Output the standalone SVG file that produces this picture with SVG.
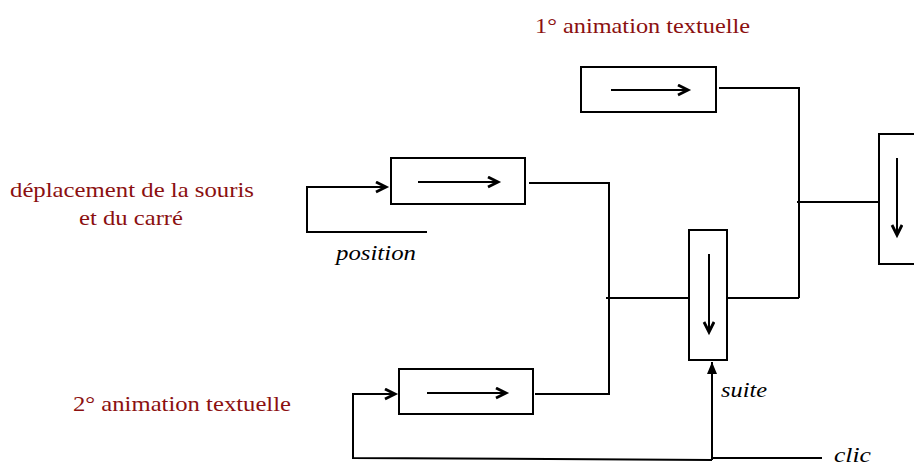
<svg xmlns="http://www.w3.org/2000/svg" width="914" height="466" viewBox="0 0 914 466">
<style>
.box{fill:#fff;stroke:#000;stroke-width:2}
.ln{fill:none;stroke:#000;stroke-width:2}
.arr{fill:none;stroke:#000;stroke-width:2;marker-end:url(#chev)}
.lbl{fill:#8b1010}
.it{font-style:italic;fill:#000}
</style>
<defs>
<marker id="chev" markerUnits="userSpaceOnUse" markerWidth="16" markerHeight="14" refX="12" refY="6" orient="auto">
<path d="M2,1 L12,6 L2,11" fill="none" stroke="#000" stroke-width="2.8"/>
</marker>
<marker id="tri" markerUnits="userSpaceOnUse" markerWidth="14" markerHeight="12" refX="12" refY="5" orient="auto">
<path d="M0,0 L12,5 L0,10 Z" fill="#000"/>
</marker>
</defs>

<g id="connectors">
<path class="ln" d="M529,183 H609 V394 H535"/>
<path class="ln" d="M719,88 H799 V298"/>
<path class="ln" d="M606,298 H709 M727,298 H799"/>
<path class="ln" d="M797,202 H897"/>
<path class="arr" d="M427,232 H307 V187 H386"/>
<path class="arr" d="M712,460 L353,458 V394 H395"/>
<path class="ln" d="M822,458 H712"/>
<path class="ln" d="M712,460 V362" marker-end="url(#tri)"/>
</g>

<g id="node-deplacement">
<rect class="box" x="391" y="158" width="134" height="46"/>
<path class="arr" d="M418,182 H498"/>
</g>
<g id="node-anim1">
<rect class="box" x="581" y="67" width="135" height="45"/>
<path class="arr" d="M611,90 H688"/>
</g>
<g id="node-anim2">
<rect class="box" x="399" y="369" width="134" height="45"/>
<path class="arr" d="M427,393 H506"/>
</g>
<g id="node-suite">
<rect class="box" x="689" y="230" width="38" height="130"/>
<path class="arr" d="M709,254 V332"/>
</g>
<g id="node-right">
<rect class="box" x="879" y="134" width="40" height="130"/>
<path class="arr" d="M897,158 V235"/>
</g>

<g id="labels" font-family="Liberation Serif, DejaVu Serif, serif" font-size="21">
<text class="lbl" x="535" y="33" textLength="215" lengthAdjust="spacingAndGlyphs">1° animation textuelle</text>
<text class="lbl" x="10" y="197" textLength="244" lengthAdjust="spacingAndGlyphs">déplacement de la souris</text>
<text class="lbl" x="79" y="225" textLength="104" lengthAdjust="spacingAndGlyphs">et du carré</text>
<text class="lbl" x="73" y="411" textLength="218" lengthAdjust="spacingAndGlyphs">2° animation textuelle</text>
<text class="it" x="336" y="260" textLength="80" lengthAdjust="spacingAndGlyphs">position</text>
<text class="it" x="721" y="397" textLength="46" lengthAdjust="spacingAndGlyphs">suite</text>
<text class="it" x="834" y="462" font-size="20" textLength="37" lengthAdjust="spacingAndGlyphs">clic</text>
</g>
</svg>
